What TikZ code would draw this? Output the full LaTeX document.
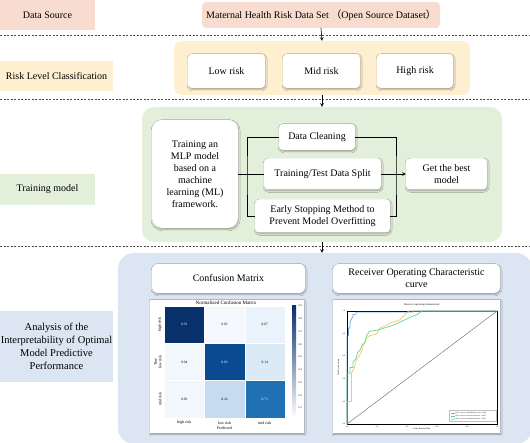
\documentclass[tikz,border=0pt]{standalone}
\usepackage{fontspec}
\setmainfont{Liberation Serif}
\newfontfamily\cjk{Noto Sans CJK SC}
\usetikzlibrary{shadows.blur}
\definecolor{peach}{HTML}{F8DCCF}
\definecolor{sand}{HTML}{FDEFCF}
\definecolor{sage}{HTML}{E2EFDA}
\definecolor{mist}{HTML}{DCE6F2}
\definecolor{cmA}{HTML}{08306B}
\definecolor{cmB}{HTML}{0A4A90}
\definecolor{cmC}{HTML}{2070B4}
\definecolor{cmD}{HTML}{C6DBEF}
\definecolor{cmE}{HTML}{DCEAF6}
\definecolor{cmF}{HTML}{EAF2FB}
\definecolor{cmG}{HTML}{F1F7FD}
\definecolor{cmH}{HTML}{F5F9FE}
\definecolor{rocB}{HTML}{6FA3DA}
\definecolor{rocG}{HTML}{5FD98A}
\definecolor{rocO}{HTML}{FFC070}

\begin{document}
\begin{tikzpicture}[x=1pt,y=-1pt,
  lbl/.style={rectangle, inner sep=0pt, align=center},
  panel/.style={rectangle, inner sep=0pt, rounded corners=#1},
  card/.style={fill=white, rounded corners=4pt, inner sep=0pt, align=center,
    blur shadow={shadow xshift=0.6pt, shadow yshift=-1.2pt, shadow blur radius=1.6pt, shadow opacity=35}},
  sheet/.style={fill=white, inner sep=0pt,
    blur shadow={shadow xshift=0.6pt, shadow yshift=-1.2pt, shadow blur radius=1.6pt, shadow opacity=35}},
  sep/.style={black!70, line width=0.5pt, dash pattern=on 2pt off 1.5pt},
  wire/.style={black, line width=0.6pt},
  fnt/.style={font=\fontsize{#1}{#1}\selectfont, inner sep=0pt}]
\useasboundingbox (0,0) rectangle (530,443);

\draw[sep] (0,35) -- (530,35);
\draw[sep] (0,99) -- (530,99);
\draw[sep] (0,246) -- (530,246);

\node[lbl, fill=peach, minimum width=95pt, minimum height=30pt] (srclbl) at (47.5,15) {Data Source};
\node[panel=4pt, fill=peach, minimum width=238pt, minimum height=26pt] (data) at (321,15)
  {Maternal Health Risk Data Set {\cjk （}Open Source Dataset{\cjk ）}};

\node[lbl, fill=sand, minimum width=113pt, minimum height=30pt] (risklbl) at (56.5,76) {Risk Level Classification};
\node[panel=8pt, fill=sand, minimum width=296pt, minimum height=54pt] (riskbg) at (322,68) {};
\node[card, minimum width=77pt, minimum height=34pt] (low) at (226.5,71) {Low risk};
\node[card, minimum width=77pt, minimum height=34pt] (mid) at (321.5,71) {Mid risk};
\node[card, minimum width=76pt, minimum height=34pt] (high) at (415,71) {High risk};

\node[lbl, fill=sage, minimum width=95pt, minimum height=31pt] (trainlbl) at (47.5,189.5) {Training model};
\node[panel=12pt, fill=sage, minimum width=360pt, minimum height=135pt] (trainbg) at (322,174.5) {};
\node[card, rounded corners=10pt, minimum width=86pt, minimum height=108pt] (mlp) at (195,174)
  {Training an\\MLP model\\based on a\\machine\\learning (ML)\\framework.};
\node[card, minimum width=76pt, minimum height=26pt] (clean) at (317,137) {Data Cleaning};
\node[card, minimum width=117pt, minimum height=31pt] (split) at (322.5,174) {Training/Test Data Split};
\node[card, minimum width=135pt, minimum height=33pt] (early) at (322.5,216)
  {Early Stopping Method to\\Prevent Model Overfitting};
\node[card, minimum width=81pt, minimum height=31pt] (best) at (446.5,174) {Get the best\\model};
\coordinate (jl) at (247,174);
\coordinate (jr) at (396,174);
\draw[wire] (mlp.east) -- (split.west);
\draw[wire] (clean.west) -| (jl) |- (early.west);
\draw[wire] (clean.east) -| (jr) |- (early.east);
\draw[wire, -stealth] (split.east) -- (best.west);

\node[lbl, fill=mist, minimum width=113pt, minimum height=71pt, font=\fontsize{10.5}{13}\selectfont] (analbl) at (56.5,346.5)
  {Analysis of the\\Interpretability of Optimal\\Model Predictive\\Performance};
\node[panel=16pt, fill=mist, minimum width=414pt, minimum height=191pt] (anabg) at (325,348.5) {};
\node[card, rounded corners=6pt, minimum width=153pt, minimum height=29pt] (cmhead) at (228.5,278.5) {Confusion Matrix};
\node[card, rounded corners=6pt, minimum width=167pt, minimum height=29pt] (rochead) at (416.5,278.5)
  {Receiver Operating Characteristic\\curve};

\draw[wire, -stealth] (data.south) -- (riskbg.north);
\draw[wire, -stealth] (riskbg.south) -- (trainbg.north);
\draw[wire, -stealth] (trainbg.south) -- (trainbg.south |- anabg.north);

\node[sheet, minimum width=154pt, minimum height=133pt] (cmimg) at (227,366.5) {};
\node[fnt=5] (cmtitle) at (226,303) {Normalized Confusion Matrix};
\foreach \v/\col/\tc [count=\i from 0] in {0.91/cmA/white,0.02/cmH/black,0.07/cmF/black,
    0.04/cmG/black,0.83/cmB/white,0.14/cmE/black,0.03/cmG/black,0.24/cmD/black,0.73/cmC/white}{
  \pgfmathtruncatemacro\rr{\i/3}
  \pgfmathtruncatemacro\cc{mod(\i,3)}
  \node[fnt=3.5, fill=\col, draw=white, line width=0.3pt, text=\tc, minimum width=40.3pt, minimum height=37.3pt]
    (cm\i) at ({184.2+40.3*\cc},{324.7+37.3*\rr}) {\v};
}
\foreach \n [count=\j from 0] in {high risk,low risk,mid risk}{
  \node[fnt=4] (px\j) at ({184.2+40.3*\j},423) {\n};
  \node[fnt=4, rotate=90] (ty\j) at (160,{324.7+37.3*\j}) {\n};
}
\node[fnt=4] (pred) at (224.5,428.5) {Predicted};
\node[fnt=4, rotate=90] (truth) at (155.5,362) {True};
\shade[top color=cmA, middle color=cmC, bottom color=white] (292,306) rectangle (296,418);
\foreach \k in {1,...,9}{
  \node[fnt=2.7, anchor=west] (cb\k) at (298.5,{306+(9-\k)*12.75}) {0.\k};
}

\node[sheet, minimum width=167pt, minimum height=133pt] (rocimg) at (416.5,366.5) {};
\node[fnt=2.7] (roctitle) at (422,305) {Receiver operating characteristic};
\node[fnt=2.2] (fpr) at (422,429) {False Positive Rate};
\node[fnt=2.2, rotate=90] (tpr) at (338.5,367.5) {True Positive Rate};
\begin{scope}[shift={(347,424)}, x=150pt, y=113pt]
  \draw[line width=0.3pt] (0,0) rectangle (1,1);
  \foreach \p [count=\j] in {0.0,0.2,0.4,0.6,0.8,1.0}{
    \node[fnt=2, anchor=north] (rx\j) at (\p,-0.02) {\p};
    \node[fnt=2, anchor=east] (ry\j) at (-0.012,\p) {\p};
  }
  \draw[black!60, line width=0.4pt] (0,0) -- (1,1);
  \draw[rocO, line width=0.7pt] plot coordinates {(0,0) (0,0.2) (0.03,0.2) (0.03,0.45) (0.05,0.5) (0.06,0.56)
    (0.08,0.6) (0.1,0.65) (0.11,0.7) (0.13,0.76) (0.15,0.78) (0.2,0.8) (0.22,0.85) (0.26,0.87)
    (0.3,0.9) (0.35,0.92) (0.38,0.96) (0.41,1) (1,1)};
  \draw[rocG, line width=0.7pt] plot coordinates {(0,0) (0,0.45) (0.02,0.45) (0.02,0.5) (0.04,0.5) (0.04,0.55)
    (0.06,0.58) (0.07,0.63) (0.09,0.66) (0.1,0.7) (0.12,0.72) (0.13,0.78) (0.15,0.82) (0.2,0.83)
    (0.25,0.85) (0.3,0.87) (0.35,0.9) (0.4,0.93) (0.43,0.95) (0.47,0.97) (0.5,1) (1,1)};
  \draw[rocB, line width=0.7pt] plot coordinates {(0,0) (0,0.78) (0.01,0.78) (0.01,0.85) (0.02,0.85) (0.02,0.9)
    (0.03,0.93) (0.04,0.95) (0.04,0.97) (0.06,0.97) (0.06,0.99) (0.44,0.99) (0.44,1) (1,1)};
\end{scope}
\draw[black!25, fill=white, line width=0.2pt] (449,410.5) rectangle (496,421.5);
\foreach \col/\n/\a [count=\j from 0] in {rocB/high/0.99,rocG/low/0.90,rocO/mid/0.91}{
  \draw[\col, line width=0.5pt] (450.5,{413+3*\j}) -- (455,{413+3*\j});
  \node[fnt=1.8, anchor=west] (lg\j) at (455.5,{413+3*\j}) {ROC curve of class \n\ risk (area = \a)};
}
\end{tikzpicture}
\end{document}
